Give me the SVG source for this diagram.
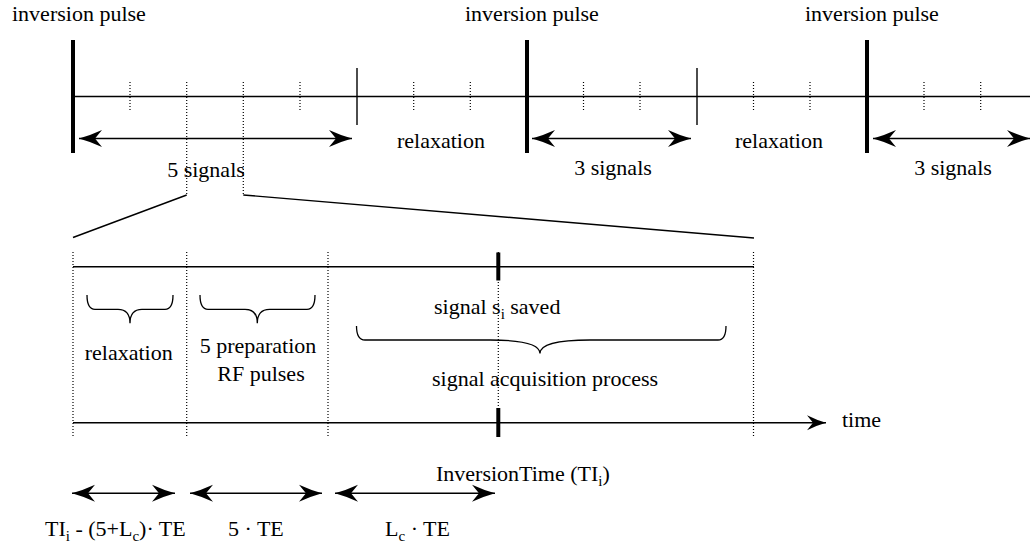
<svg xmlns="http://www.w3.org/2000/svg" width="1030" height="550" viewBox="0 0 1030 550">
<defs>
<marker id="ah" markerUnits="userSpaceOnUse" markerWidth="30" markerHeight="22" viewBox="-26 -11 28 22" refX="0" refY="0" orient="auto-start-reverse">
<path d="M0,0 Q-11,-3 -23,-8.5 L-16,0 L-23,8.5 Q-11,3 0,0 Z" fill="#000"/>
</marker>
<marker id="ah2" markerUnits="userSpaceOnUse" markerWidth="30" markerHeight="22" viewBox="-26 -11 28 22" refX="0" refY="0" orient="auto">
<path d="M0,0 Q-9,-2.5 -19,-7.5 L-13,0 L-19,7.5 Q-9,2.5 0,0 Z" fill="#000"/>
</marker>
</defs>
<style>
text{font-family:"Liberation Serif","Times New Roman",serif;font-size:22px;fill:#000}
.sub{font-size:15px}
.ax{stroke:#000;stroke-width:1.4;fill:none}
.thick{stroke:#000;stroke-width:4;fill:none}
.thin{stroke:#000;stroke-width:1.4;fill:none}
.dot{stroke:#000;stroke-width:1.2;stroke-dasharray:1 2;fill:none}
.arr{stroke:#000;stroke-width:1.6;fill:none;marker-start:url(#ah);marker-end:url(#ah)}
.brace{stroke:#000;stroke-width:1.3;fill:none}
</style>

<g id="connectors">
<line class="ax" x1="73" y1="96.5" x2="1030" y2="96.5"/>
<g id="dotted-ticks-top">
<line class="dot" x1="130" y1="82" x2="130" y2="110"/>
<line class="dot" x1="186.7" y1="82" x2="186.7" y2="195"/>
<line class="dot" x1="243.3" y1="82" x2="243.3" y2="195"/>
<line class="dot" x1="300" y1="82" x2="300" y2="110"/>
<line class="dot" x1="413.7" y1="82" x2="413.7" y2="110"/>
<line class="dot" x1="470.3" y1="82" x2="470.3" y2="110"/>
<line class="dot" x1="583.5" y1="82" x2="583.5" y2="110"/>
<line class="dot" x1="640" y1="82" x2="640" y2="110"/>
<line class="dot" x1="753.5" y1="82" x2="753.5" y2="110"/>
<line class="dot" x1="810" y1="82" x2="810" y2="110"/>
<line class="dot" x1="924" y1="82" x2="924" y2="110"/>
<line class="dot" x1="980.7" y1="82" x2="980.7" y2="110"/>
</g>
<line class="thin" x1="357" y1="68" x2="357" y2="125"/>
<line class="thin" x1="697" y1="68" x2="697" y2="125"/>
<line class="arr" x1="79" y1="138.5" x2="352" y2="138.5"/>
<line class="arr" x1="532" y1="138.5" x2="691" y2="138.5"/>
<line class="arr" x1="873" y1="138.5" x2="1030" y2="138.5"/>

<line class="thin" x1="186.7" y1="195" x2="73" y2="237.5"/>
<line class="thin" x1="243.3" y1="195" x2="754" y2="238"/>

<line class="ax" x1="73" y1="266.7" x2="754" y2="266.7"/>
<line class="ax" x1="73" y1="422.7" x2="826" y2="422.7" marker-end="url(#ah2)"/>
<line class="dot" x1="73" y1="252" x2="73" y2="437"/>
<line class="dot" x1="186.7" y1="252" x2="186.7" y2="437"/>
<line class="dot" x1="328" y1="252" x2="328" y2="437"/>
<line class="dot" x1="498.3" y1="252" x2="498.3" y2="437"/>
<line class="dot" x1="753.5" y1="252" x2="753.5" y2="437"/>
<line class="thick" x1="498.3" y1="252.5" x2="498.3" y2="280.5"/>
<line class="thick" x1="498.3" y1="408" x2="498.3" y2="437"/>

<path class="brace" d="M87,295 Q87,309.3 95,309.3 L118,309.3 Q130,309.3 130,323.3 Q130,309.3 142,309.3 L165,309.3 Q173,309.3 173,295"/>
<path class="brace" d="M200,295 Q200,309.3 208,309.3 L245,309.3 Q257.3,309.3 257.3,323.3 Q257.3,309.3 269.6,309.3 L307,309.3 Q315,309.3 315,295"/>
<path class="brace" d="M356.5,326 Q356.5,340 365,340 L490,340 Q540,340 540,353.5 Q540,340 590,340 L718,340 Q726,340 726,326"/>

<line class="arr" x1="72" y1="493.3" x2="175" y2="493.3"/>
<line class="arr" x1="190" y1="493.3" x2="322" y2="493.3"/>
<line class="arr" x1="335" y1="493.3" x2="495" y2="493.3"/>
</g>

<g id="inversion-pulses">
<line class="thick" x1="73" y1="40" x2="73" y2="153"/>
<line class="thick" x1="527" y1="40" x2="527" y2="153"/>
<line class="thick" x1="867" y1="40" x2="867" y2="153"/>
</g>

<g id="labels-top">
<text x="12" y="21">inversion pulse</text>
<text x="465" y="21">inversion pulse</text>
<text x="805" y="21">inversion pulse</text>
<text x="206" y="177" text-anchor="middle">5 signals</text>
<text x="441" y="148" text-anchor="middle">relaxation</text>
<text x="613" y="175" text-anchor="middle">3 signals</text>
<text x="779" y="148" text-anchor="middle">relaxation</text>
<text x="953" y="175" text-anchor="middle">3 signals</text>
</g>

<g id="labels-detail">
<text x="128.7" y="360" text-anchor="middle">relaxation</text>
<text x="258" y="353" text-anchor="middle">5 preparation</text>
<text x="261" y="381" text-anchor="middle">RF pulses</text>
<text x="434" y="314">signal s<tspan class="sub" dy="5">i</tspan><tspan dy="-5"> saved</tspan></text>
<text x="432" y="386">signal acquisition process</text>
<text x="842" y="427">time</text>
<text x="436" y="481">InversionTime (TI<tspan class="sub" dy="5">i</tspan><tspan dy="-5">)</tspan></text>
<text x="45" y="536">TI<tspan class="sub" dy="5">i</tspan><tspan dy="-5"> - (5+L</tspan><tspan class="sub" dy="5">c</tspan><tspan dy="-5">)· TE</tspan></text>
<text x="228" y="536">5 · TE</text>
<text x="385" y="536">L<tspan class="sub" dy="5">c</tspan><tspan dy="-5"> · TE</tspan></text>
</g>
</svg>
